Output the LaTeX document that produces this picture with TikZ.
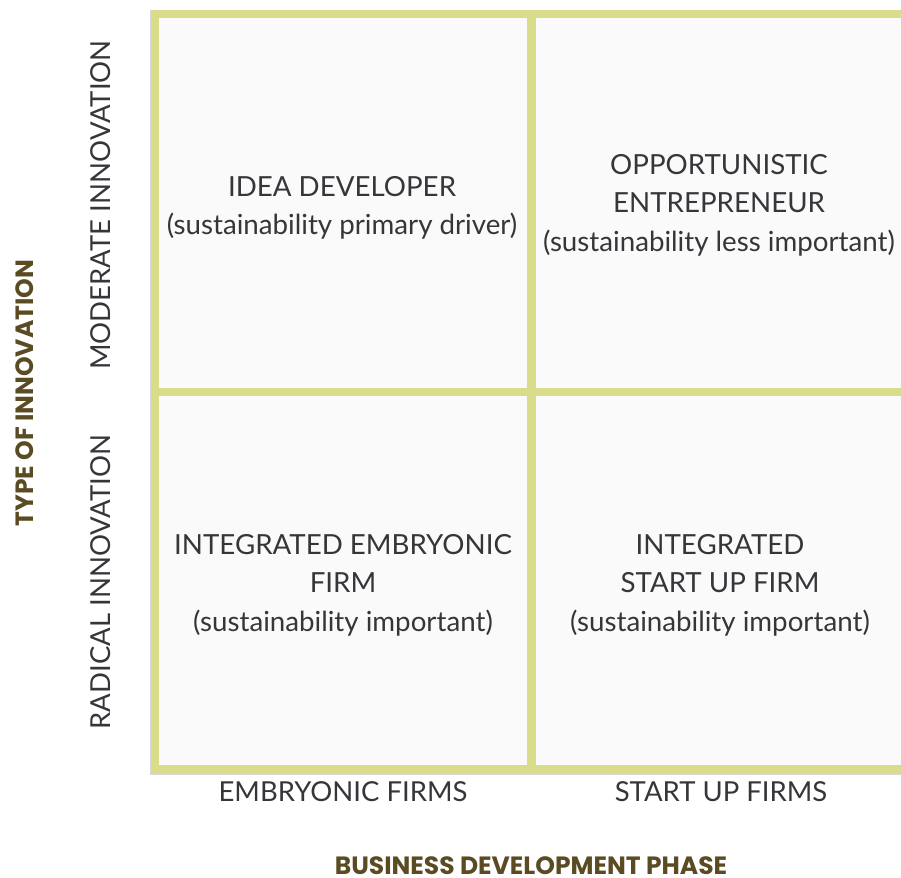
\documentclass[tikz,border=0pt]{standalone}
\usepackage{fontspec}
\setmainfont{Lato}
\newfontfamily\axisfont{Poppins}
\definecolor{gridline}{HTML}{D9DC8A}
\definecolor{cellfill}{HTML}{FAFAFA}
\definecolor{bodytext}{HTML}{38353A}
\definecolor{axisbrown}{HTML}{5A4B23}
\tikzset{
  celltext/.style={align=center, text=bodytext, font=\fontsize{27.7}{38.5}\selectfont, inner sep=0pt},
  phasetext/.style={text=bodytext, font=\fontsize{27.5}{30}\selectfont, inner sep=0pt},
  axistitle/.style={text=axisbrown, font=\axisfont\bfseries\fontsize{25}{28}\selectfont, inner sep=0pt},
  gridstroke/.style={draw=gridline, line width=8.5pt}
}
\begin{document}
\begin{tikzpicture}[x=1pt,y=-1pt]
  \useasboundingbox (0,0) rectangle (901,877);
  \clip (0,0) rectangle (901,877);
  % matrix background
  \fill[cellfill] (155,14) rectangle (905,769.5);
  % faint outer edge of the frame
  \draw[gray!30, line width=0.8pt] (905,10) -- (150.6,10) -- (150.6,774) -- (905,774);
  % frame and dividers
  \draw[gridstroke] (905,14) -- (155,14) -- (155,769.5) -- (905,769.5);
  \draw[gridstroke] (531.5,14) -- (531.5,769.5);
  \draw[gridstroke] (155,392) -- (905,392);
  % quadrant labels
  \node[celltext] (ideadev) at (342,208) {IDEA DEVELOPER\\(sustainability primary driver)};
  \node[celltext] (opport) at (719,205) {OPPORTUNISTIC\\ENTREPRENEUR\\(sustainability less important)};
  \node[celltext] (embryo) at (343,585) {INTEGRATED EMBRYONIC\\FIRM\\(sustainability important)};
  \node[celltext] (startup) at (720,585) {INTEGRATED\\START UP FIRM\\(sustainability important)};
  % column labels
  \node[phasetext, anchor=base] (colemb) at (343,801) {EMBRYONIC FIRMS};
  \node[phasetext, anchor=base] (colstart) at (721,801) {START UP FIRMS};
  % row labels
  \node[phasetext, rotate=90] (rowmod) at (101,205) {MODERATE INNOVATION};
  \node[phasetext, rotate=90] (rowrad) at (101,582) {RADICAL INNOVATION};
  % axis titles
  \node[axistitle, anchor=base] (xtitle) at (531,874) {BUSINESS DEVELOPMENT PHASE};
  \node[axistitle, rotate=90] (ytitle) at (25,393) {TYPE OF INNOVATION};
\end{tikzpicture}
\end{document}
